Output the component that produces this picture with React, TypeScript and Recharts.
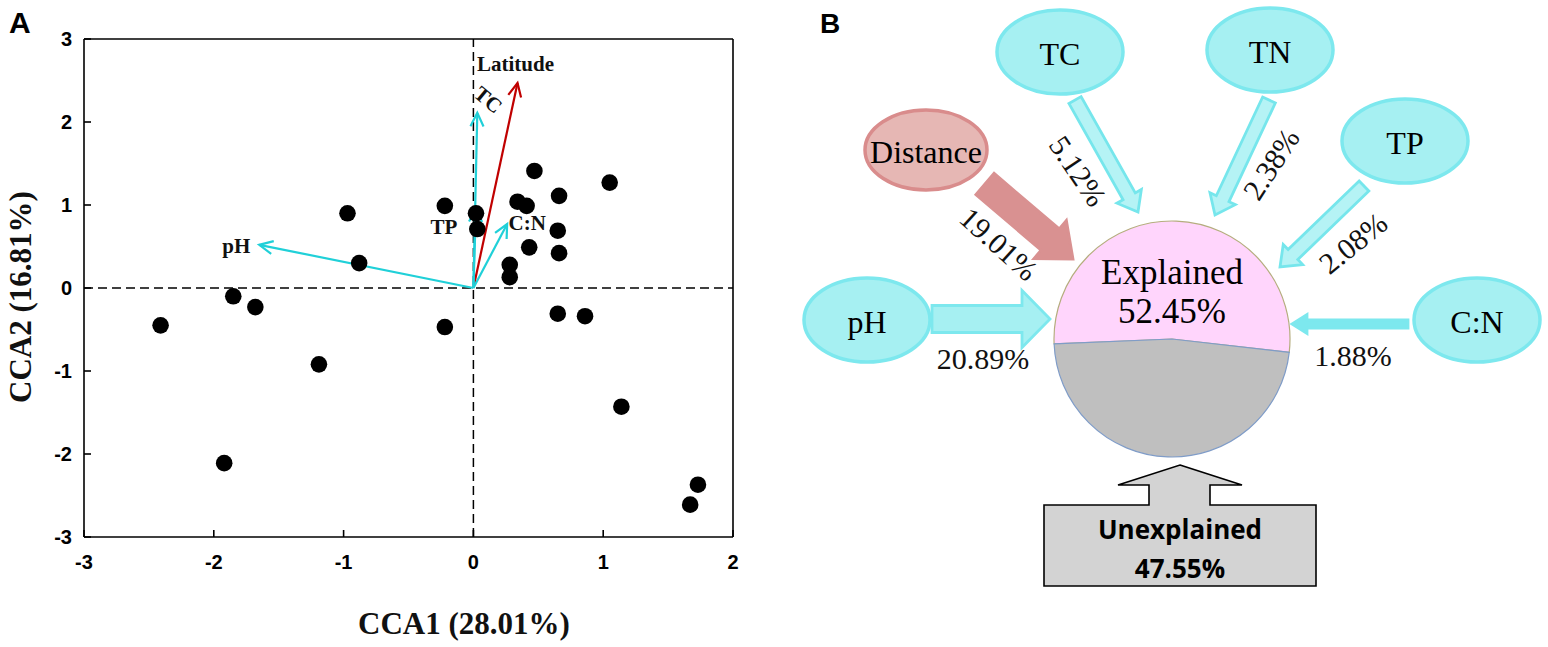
import React from "react";
import {
  Cell,
  Customized,
  Pie,
  PieChart,
  ReferenceLine,
  Scatter,
  ScatterChart,
  XAxis,
  YAxis,
} from "recharts";

// ---- Panel A: CCA biplot ----
const siteX = [-2.41, -1.85, -1.68, -1.19, -1.92, -0.97, -0.88, -0.22, 0.02, 0.03, -0.22, 0.28, 0.28, 0.47, 0.34, 0.41, 0.66, 0.43, 0.65, 0.66, 1.05, 0.65, 0.86, 1.14, 1.73, 1.67];
const siteY = [-0.45, -0.1, -0.23, -0.92, -2.11, 0.9, 0.3, 0.99, 0.9, 0.71, -0.47, 0.28, 0.13, 1.41, 1.04, 0.99, 1.11, 0.49, 0.69, 0.42, 1.27, -0.31, -0.34, -1.43, -2.37, -2.61];

const envNames = ["pH", "Latitude", "TC", "TP", "C:N"];
const envX = [-1.65, 0.34, 0.03, 0.02, 0.26];
const envY = [0.52, 2.47, 2.11, 0.96, 0.77];

const xTicks = [-3, -2, -1, 0, 1, 2];
const yTicks = [-3, -2, -1, 0, 1, 2, 3];

// ---- Panel B: variation partitioning ----
const factorNames = ["pH", "Distance", "TC", "TN", "TP", "C:N"];
const factorPct = [20.89, 19.01, 5.12, 2.38, 2.08, 1.88];
const partNames = ["Explained", "Unexplained"];
const partPct = [52.45, 47.55];

// styles / layout (not data)
const CYAN = "#20D0D8";
const RED = "#C00000";
const SERIF = "'Liberation Serif', 'Times New Roman', serif";
const SANS = "'Liberation Sans', Arial, sans-serif";

const envStyle: Record<string, { color: string; dx: number; dy: number; rot: number }> = {
  pH: { color: CYAN, dx: -23, dy: 1, rot: 0 },
  Latitude: { color: RED, dx: -2, dy: -19, rot: 0 },
  TC: { color: CYAN, dx: 11, dy: -13, rot: 40 },
  TP: { color: CYAN, dx: -32, dy: 19, rot: 0 },
  "C:N": { color: CYAN, dx: 20, dy: -1, rot: 0 },
};

// diagram layout for panel B, in page pixels
const nodeLayout: Record<string, { x: number; y: number }> = {
  pH: { x: 867, y: 320 },
  Distance: { x: 926, y: 150 },
  TC: { x: 1060, y: 52 },
  TN: { x: 1270, y: 50 },
  TP: { x: 1405, y: 141 },
  "C:N": { x: 1477, y: 320 },
};

const flowLayout: Record<string, any> = {
  pH: { from: [932, 319], to: [1050, 319], shaft: 27, head: 57, headLen: 28, fill: "#A6F0F2", stroke: "#7DE8EE", dx: -67, dy: 39, rot: 0 },
  Distance: { from: [985, 184], to: [1073, 259], shaft: 28, head: 50, headLen: 30, fill: "#D99191", stroke: "#D99191", dx: -74, dy: -15, rot: 42 },
  TC: { from: [1075, 100], to: [1138, 212], shaft: 14, head: 28, headLen: 18, fill: "#B5F3F5", stroke: "#76E6EC", dx: -60, dy: -41, rot: 56 },
  TN: { from: [1269, 100], to: [1215, 215], shaft: 14, head: 28, headLen: 18, fill: "#B5F3F5", stroke: "#76E6EC", dx: 56, dy: -51, rot: -57 },
  TP: { from: [1364, 186], to: [1280, 267], shaft: 14, head: 28, headLen: 18, fill: "#B5F3F5", stroke: "#76E6EC", dx: 73, dy: -24, rot: -39 },
  "C:N": { from: [1408, 324], to: [1292, 324], shaft: 8, head: 19, headLen: 15, fill: "#7DE8EE", stroke: "#7DE8EE", dx: 61, dy: 31, rot: 0 },
};

function VectorArrow(props: any) {
  const { x1, y1, x2, y2, name } = props;
  const st = envStyle[name];
  const a = Math.atan2(y2 - y1, x2 - x1);
  const L = 15;
  const s = 0.45;
  const h1x = x2 - L * Math.cos(a - s);
  const h1y = y2 - L * Math.sin(a - s);
  const h2x = x2 - L * Math.cos(a + s);
  const h2y = y2 - L * Math.sin(a + s);
  const lx = x2 + st.dx;
  const ly = y2 + st.dy;
  return (
    <g>
      <line x1={x1} y1={y1} x2={x2} y2={y2} stroke={st.color} strokeWidth={2.2} />
      <polyline points={`${h1x},${h1y} ${x2},${y2} ${h2x},${h2y}`} fill="none" stroke={st.color} strokeWidth={2.2} />
      <text
        x={lx}
        y={ly}
        transform={st.rot ? `rotate(${st.rot} ${lx} ${ly})` : undefined}
        textAnchor="middle"
        dominantBaseline="central"
        fontFamily={SERIF}
        fontWeight="bold"
        fontSize={21}
        fill="#111"
      >
        {name}
      </text>
    </g>
  );
}

function BlockArrow(props: any) {
  const { x1, y1, x2, y2, name, pct } = props;
  const f = flowLayout[name];
  const len = Math.hypot(x2 - x1, y2 - y1);
  const ux = (x2 - x1) / len;
  const uy = (y2 - y1) / len;
  const nx = -uy;
  const ny = ux;
  const bx = x2 - ux * f.headLen;
  const by = y2 - uy * f.headLen;
  const p = (x: number, y: number, w: number) => `${x + nx * w},${y + ny * w}`;
  const pts = [
    p(x1, y1, f.shaft / 2),
    p(bx, by, f.shaft / 2),
    p(bx, by, f.head / 2),
    `${x2},${y2}`,
    p(bx, by, -f.head / 2),
    p(bx, by, -f.shaft / 2),
    p(x1, y1, -f.shaft / 2),
  ].join(" ");
  const lx = x2 + f.dx;
  const ly = y2 + f.dy;
  return (
    <g>
      <polygon points={pts} fill={f.fill} stroke={f.stroke} strokeWidth={2.8} strokeLinejoin="miter" />
      <text
        x={lx}
        y={ly}
        transform={f.rot ? `rotate(${f.rot} ${lx} ${ly})` : undefined}
        textAnchor="middle"
        dominantBaseline="central"
        fontFamily={SERIF}
        fontSize={30}
        fill="#111"
      >
        {`${pct.toFixed(2)}%`}
      </text>
    </g>
  );
}

function NodeShape(props: any) {
  const { cx, cy, payload } = props;
  const pink = payload.name === "Distance";
  return (
    <g>
      <ellipse
        cx={cx}
        cy={cy}
        rx={pink ? 61 : 63}
        ry={pink ? 40 : 42}
        fill={pink ? "#E6B7B4" : "#A6F0F2"}
        stroke={pink ? "#D98C8C" : "#7DE8EE"}
        strokeWidth={3.5}
      />
      <text x={cx} y={cy + 2} textAnchor="middle" dominantBaseline="central" fontFamily={SERIF} fontSize={32} fill="#000">
        {payload.name}
      </text>
    </g>
  );
}

function PieLabel(props: any) {
  const { cx, cy, index, value, name } = props;
  if (index === 0) {
    return (
      <g>
        <text x={cx} y={cy - 67} textAnchor="middle" dominantBaseline="central" fontFamily={SERIF} fontSize={35} fill="#000">
          {name}
        </text>
        <text x={cx} y={cy - 28} textAnchor="middle" dominantBaseline="central" fontFamily={SERIF} fontSize={35} fill="#000">
          {`${value.toFixed(2)}%`}
        </text>
      </g>
    );
  }
  const x = cx + 8;
  const pts = [
    [x, cy + 126],
    [x + 62, cy + 146],
    [x + 30, cy + 146],
    [x + 30, cy + 166],
    [x + 136, cy + 166],
    [x + 136, cy + 247],
    [x - 136, cy + 247],
    [x - 136, cy + 166],
    [x - 31, cy + 166],
    [x - 31, cy + 146],
    [x - 62, cy + 146],
  ]
    .map((q) => q.join(","))
    .join(" ");
  return (
    <g>
      <polygon points={pts} fill="#D3D3D3" stroke="#000" strokeWidth={1.6} />
      <text x={x} y={cy + 190} textAnchor="middle" dominantBaseline="central" fontFamily="'Open Sans', sans-serif" fontWeight={700} fontSize={26} fill="#000">
        {name}
      </text>
      <text x={x} y={cy + 229} textAnchor="middle" dominantBaseline="central" fontFamily="'Open Sans', sans-serif" fontWeight={700} fontSize={26} fill="#000">
        {`${value.toFixed(2)}%`}
      </text>
    </g>
  );
}

const tickStyle = { fontFamily: SANS, fontWeight: 700, fontSize: 20, fill: "#000" };

export default function App() {
  const sites = siteX.map((x, i) => ({ x, y: siteY[i] }));
  const nodes = factorNames.map((name) => ({ name, x: nodeLayout[name].x, y: nodeLayout[name].y }));
  const pieData = partNames.map((name, i) => ({ name, value: partPct[i] }));

  return (
    <div style={{ position: "absolute", left: 0, top: 0, width: 1548, height: 647, background: "#fff", overflow: "hidden" }}>
      {/* Panel A */}
      <div style={{ position: "absolute", left: 0, top: 0 }}>
        <ScatterChart width={770} height={647} margin={{ top: 39, right: 37, bottom: 60, left: 24 }}>
          <XAxis
            type="number"
            dataKey="x"
            domain={[-3, 2]}
            ticks={xTicks}
            allowDataOverflow
            height={50}
            tickSize={-7}
            tickMargin={25}
            tick={tickStyle}
            axisLine={{ stroke: "#000", strokeWidth: 1.6 }}
            tickLine={{ stroke: "#000", strokeWidth: 1.6 }}
          />
          <YAxis
            type="number"
            dataKey="y"
            domain={[-3, 3]}
            ticks={yTicks}
            allowDataOverflow
            width={60}
            tickSize={-7}
            tickMargin={19}
            tick={tickStyle}
            axisLine={{ stroke: "#000", strokeWidth: 1.6 }}
            tickLine={{ stroke: "#000", strokeWidth: 1.6 }}
          />
          <ReferenceLine y={3} stroke="#000" strokeWidth={1.6} />
          <ReferenceLine x={2} stroke="#000" strokeWidth={1.6} />
          <ReferenceLine y={0} stroke="#000" strokeWidth={1.5} strokeDasharray="9 5" />
          <ReferenceLine x={0} stroke="#000" strokeWidth={1.5} strokeDasharray="9 5" />
          <Scatter
            data={sites}
            isAnimationActive={false}
            shape={(p: any) => <circle cx={p.cx} cy={p.cy} r={8.3} fill="#000" />}
          />
          {envNames.map((name, i) => (
            <ReferenceLine
              key={name}
              segment={[
                { x: 0, y: 0 },
                { x: envX[i], y: envY[i] },
              ]}
              shape={(p: any) => <VectorArrow {...p} name={name} />}
            />
          ))}
          <Customized
            component={
              <g>
                <text x={9} y={33} fontFamily={SANS} fontWeight={700} fontSize={30} fill="#000">
                  A
                </text>
                <text x={464} y={634} textAnchor="middle" fontFamily={SERIF} fontWeight={700} fontSize={31} fill="#111">
                  CCA1 (28.01%)
                </text>
                <text x={31} y={297} transform="rotate(-90 31 297)" textAnchor="middle" fontFamily={SERIF} fontWeight={700} fontSize={31} fill="#111">
                  CCA2 (16.81%)
                </text>
              </g>
            }
          />
        </ScatterChart>
      </div>

      {/* Panel B: partition circle */}
      <div style={{ position: "absolute", left: 780, top: 0 }}>
        <PieChart width={768} height={647} margin={{ top: 0, right: 0, bottom: 0, left: 0 }}>
          <Pie
            data={pieData}
            dataKey="value"
            nameKey="name"
            cx={392}
            cy={339}
            outerRadius={118}
            startAngle={-6.5}
            endAngle={353.5}
            label={PieLabel}
            labelLine={false}
            isAnimationActive={false}
          >
            <Cell fill="#FFD5FC" stroke="#B5AD7E" strokeWidth={1.2} />
            <Cell fill="#BFBFBF" stroke="#7F9CC8" strokeWidth={1.2} />
          </Pie>
        </PieChart>
      </div>

      {/* Panel B: factors and flows */}
      <div style={{ position: "absolute", left: 780, top: 0 }}>
        <ScatterChart width={768} height={647} margin={{ top: 0, right: 0, bottom: 0, left: 0 }}>
          <XAxis type="number" dataKey="x" domain={[780, 1548]} allowDataOverflow hide />
          <YAxis type="number" dataKey="y" domain={[0, 647]} reversed allowDataOverflow hide />
          {factorNames.map((name, i) => {
            const f = flowLayout[name];
            return (
              <ReferenceLine
                key={name}
                segment={[
                  { x: f.from[0], y: f.from[1] },
                  { x: f.to[0], y: f.to[1] },
                ]}
                shape={(p: any) => <BlockArrow {...p} name={name} pct={factorPct[i]} />}
              />
            );
          })}
          <Scatter data={nodes} isAnimationActive={false} shape={NodeShape} />
          <Customized
            component={
              <text x={40} y={33} fontFamily={SANS} fontWeight={700} fontSize={28} fill="#000">
                B
              </text>
            }
          />
        </ScatterChart>
      </div>
    </div>
  );
}
